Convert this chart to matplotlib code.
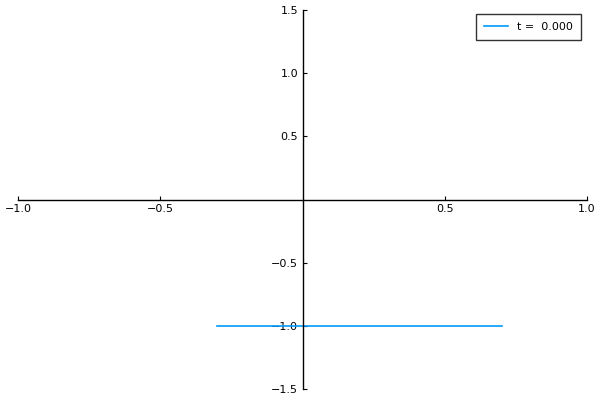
import matplotlib
matplotlib.use("Agg")
import matplotlib.pyplot as plt

x_vals = [-0.3, 0.7]
y_vals = [-1.0, -1.0]
label = "t =  0.000"
xticks = [-1.0, -0.5, 0.5, 1.0]
yticks = [-1.5, -1.0, -0.5, 0.5, 1.0, 1.5]

fig = plt.figure(figsize=(6, 4), dpi=100)
ax = fig.add_axes([18/600, 1-389/400, (587-18)/600, (389-10)/400])
ax.plot(x_vals, y_vals, color="#009AFA", lw=1.2, label=label)
ax.set_xlim(-1, 1)
ax.set_ylim(-1.5, 1.5)
for s in ["top", "right"]:
    ax.spines[s].set_visible(False)
ax.spines["left"].set_position(("data", 0))
ax.spines["bottom"].set_position(("data", 0))
ax.spines["left"].set_linewidth(1.0)
ax.spines["bottom"].set_linewidth(1.0)
ax.set_xticks(xticks)
ax.set_yticks(yticks)
ax.set_xticklabels([f"{v:.1f}".replace("-", "\u2212") for v in xticks])
ax.set_yticklabels([f"{v:.1f}".replace("-", "\u2212") for v in yticks])
ax.tick_params(axis="x", direction="in", length=3, width=0.8, labelsize=8, pad=3)
ax.tick_params(axis="y", direction="in", length=3, width=0.8, labelsize=8, pad=3)
ax.patch.set_alpha(0)
leg = ax.legend(loc="upper right", fontsize=8, frameon=True, fancybox=False,
                edgecolor="black", borderpad=0.7, handlelength=2.2, borderaxespad=0,
                bbox_to_anchor=(581/600, 1-14/400), bbox_transform=fig.transFigure)
leg.get_frame().set_linewidth(1.0)
fig.savefig("out.png", dpi=100)
